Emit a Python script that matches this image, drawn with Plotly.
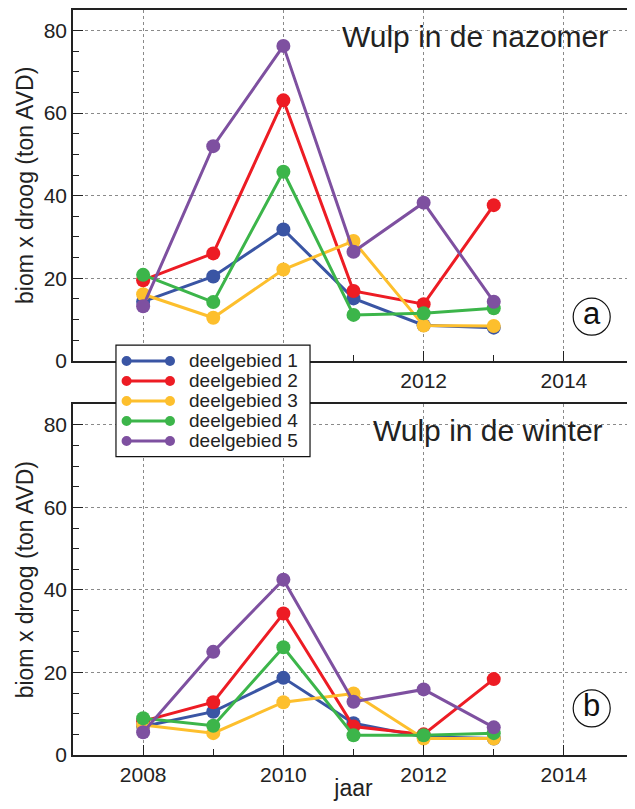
import plotly.graph_objects as go
from plotly.subplots import make_subplots

years = [2008, 2009, 2010, 2011, 2012, 2013]
series_names = ["deelgebied 1", "deelgebied 2", "deelgebied 3", "deelgebied 4", "deelgebied 5"]
colors = ["#3a55a4", "#ed1c24", "#fdbf2d", "#3cb54a", "#7e50a0"]

# Wulp in de nazomer (a)
nazomer_d1 = [14.3, 20.4, 31.8, 15.1, 8.6, 8.0]
nazomer_d2 = [19.5, 26.0, 63.1, 16.9, 13.7, 37.7]
nazomer_d3 = [16.1, 10.4, 22.1, 29.0, 8.5, 8.4]
nazomer_d4 = [20.8, 14.2, 45.8, 11.1, 11.5, 12.7]
nazomer_d5 = [13.2, 52.0, 76.3, 26.4, 38.3, 14.3]

# Wulp in de winter (b)
winter_d1 = [6.9, 10.5, 18.7, 7.7, 4.4, 4.0]
winter_d2 = [8.2, 12.8, 34.3, 6.9, 5.0, 18.4]
winter_d3 = [7.3, 5.3, 12.8, 14.9, 4.0, 4.0]
winter_d4 = [8.9, 7.1, 26.1, 4.8, 4.8, 5.3]
winter_d5 = [5.5, 25.0, 42.5, 12.9, 15.9, 6.7]

x_tickvals = [2008, 2010, 2012, 2014]
x_ticktext_bottom = ["2008", "2010", "2012", "2014"]
x_ticktext_top = ["", "", "2012", "2014"]   # 2008/2010 lie under the legend box
y_tickvals = [0, 20, 40, 60, 80]

nazomer = [nazomer_d1, nazomer_d2, nazomer_d3, nazomer_d4, nazomer_d5]
winter = [winter_d1, winter_d2, winter_d3, winter_d4, winter_d5]

FONT = "Liberation Sans, Arial, Helvetica, sans-serif"
TXT = "#222222"

fig = make_subplots(rows=2, cols=1, vertical_spacing=0.0586)

for i, name in enumerate(series_names):
    fig.add_trace(go.Scatter(x=years, y=nazomer[i], mode="lines+markers", name=name,
                             line=dict(color=colors[i], width=3),
                             marker=dict(color=colors[i], size=14),
                             showlegend=False), row=1, col=1)
for i, name in enumerate(series_names):
    fig.add_trace(go.Scatter(x=years, y=winter[i], mode="lines+markers", name=name,
                             line=dict(color=colors[i], width=3),
                             marker=dict(color=colors[i], size=14),
                             showlegend=False), row=2, col=1)

axis_common = dict(showline=True, linecolor="#222222", linewidth=1.5, mirror=True,
                   ticks="inside", ticklen=10, tickwidth=1.2, tickcolor="#222222",
                   showgrid=True, gridcolor="#8a8a8a", griddash="dot", gridwidth=1,
                   zeroline=False, automargin=False,
                   tickfont=dict(family=FONT, size=21, color=TXT))

for r, ttxt in ((1, x_ticktext_top), (2, x_ticktext_bottom)):
    fig.update_xaxes(range=[2007, 2015], tickvals=x_tickvals, ticktext=ttxt,
                     minor=dict(dtick=1, tick0=2007, ticks="inside", ticklen=6,
                                tickcolor="#222222", showgrid=False),
                     **axis_common, row=r, col=1)
    fig.update_yaxes(range=[0, 85], tickvals=y_tickvals,
                     minor=dict(dtick=5, tick0=0, ticks="inside", ticklen=6,
                                tickcolor="#222222", showgrid=False),
                     title=dict(text="biom x droog (ton AVD)", standoff=4,
                                font=dict(family=FONT, size=23, color=TXT)),
                     **axis_common, row=r, col=1)

fig.update_xaxes(title=dict(text="jaar", standoff=2, font=dict(family=FONT, size=23, color=TXT)),
                 row=2, col=1)

# Panel titles
fig.add_annotation(text="Wulp in de nazomer", xref="x domain", yref="y domain",
                   x=0.957, y=0.925, xanchor="right", yanchor="middle", showarrow=False,
                   font=dict(family=FONT, size=30, color=TXT))
fig.add_annotation(text="Wulp in de winter", xref="x2 domain", yref="y2 domain",
                   x=0.948, y=0.924, xanchor="right", yanchor="middle", showarrow=False,
                   font=dict(family=FONT, size=30, color=TXT))

# Panel letters in circles
for xr, yr, letter, cy in (("x domain", "y domain", "a", 0.1255), ("x2 domain", "y2 domain", "b", 0.133)):
    fig.add_shape(type="circle", xref=xr, yref=yr,
                  x0=0.9246 - 0.033, x1=0.9246 + 0.033, y0=cy - 0.0528, y1=cy + 0.0528,
                  line=dict(color="#111111", width=1.2), fillcolor="white")
    fig.add_annotation(text=letter, xref=xr, yref=yr, x=0.9246, y=cy + 0.008,
                       xanchor="center", yanchor="middle", showarrow=False,
                       font=dict(family=FONT, size=31, color="#111111"))

# Legend box (framed key, markers at both ends of each line)
lg_x0, lg_x1, lg_y0, lg_y1 = 0.0766, 0.4225, 0.4004, 0.5503
fig.add_shape(type="rect", xref="paper", yref="paper", x0=lg_x0, x1=lg_x1, y0=lg_y0, y1=lg_y1,
              line=dict(color="#111111", width=1.2), fillcolor="white", layer="above")
row_top = 0.5289      # paper y of first row
row_step = 0.02685    # 20 px per row
m_left = 0.0955       # left marker centre
m_right = 0.1729      # right marker centre
text_x = 0.2032
for i, name in enumerate(series_names):
    ry = row_top - i * row_step
    fig.add_shape(type="line", xref="paper", yref="paper", x0=m_left, x1=m_right, y0=ry, y1=ry,
                  line=dict(color=colors[i], width=3), layer="above")
    for mx in (m_left, m_right):
        fig.add_shape(type="circle", xref="paper", yref="paper",
                      xsizemode="pixel", ysizemode="pixel", xanchor=mx, yanchor=ry,
                      x0=-5, x1=5, y0=-5, y1=5,
                      line=dict(color=colors[i], width=0), fillcolor=colors[i], layer="above")
    fig.add_annotation(text=name, xref="paper", yref="paper", x=text_x, y=ry,
                       xanchor="left", yanchor="middle", showarrow=False,
                       font=dict(family=FONT, size=19, color=TXT))

# The page body has an 8px default margin, so the figure is sized to fit inside it.
fig.update_layout(
    width=627, height=793,
    margin=dict(l=65, r=1, t=2, b=46),
    paper_bgcolor="white", plot_bgcolor="white",
    font=dict(family=FONT, color=TXT),
    showlegend=False,
)

fig.write_html("out.html")
